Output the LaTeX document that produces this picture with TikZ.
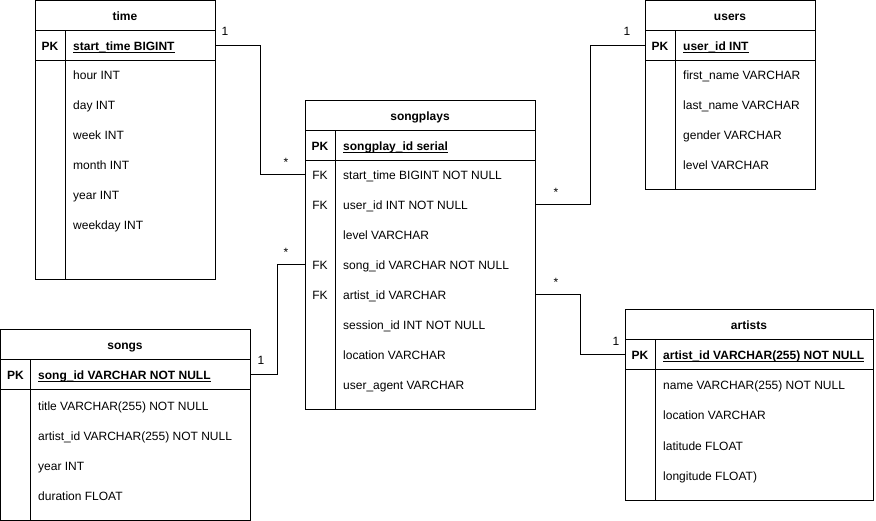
\documentclass[tikz,border=0pt]{standalone}
\usepackage{fontspec}
\setmainfont{Liberation Sans}
\newlength\kulw
\newcommand\kul[1]{\settowidth\kulw{#1}\rlap{\rule[-2.2pt]{\kulw}{0.8pt}}#1}
\tikzset{
  base/.style={inner sep=0pt, text height=10.4pt, text depth=0.4pt, font=\fontsize{12pt}{14pt}\selectfont},
  ttl/.style={base, font=\fontsize{12pt}{14pt}\selectfont\bfseries},
  keylbl/.style={base, font=\fontsize{12pt}{14pt}\selectfont\bfseries},
  fklbl/.style={base},
  fld/.style={base, anchor=west},
  keyfld/.style={base, anchor=west, font=\fontsize{12pt}{14pt}\selectfont\bfseries},
  card/.style={base},
  tbl/.style={draw=black, line width=1pt, anchor=north west, inner sep=0pt, outer sep=0pt},
  rowbox/.style={draw=none, anchor=north west, inner sep=0pt, outer sep=0pt, minimum height=30pt},
  sep/.style={draw=black, line width=1pt},
  link/.style={draw=black, line width=1pt},
}
\begin{document}
\begin{tikzpicture}[x=1pt,y=-1pt]
\useasboundingbox (0,0) rectangle (876,521);

% ---------------- time ----------------
\node[tbl, minimum width=180pt, minimum height=279pt] (time) at (35,1) {};
\node[rowbox, minimum width=180pt] (time-pk) at (35,31) {};
\draw[sep] (time-pk.north west) -- (time-pk.north east);
\draw[sep] (time-pk.south west) -- (time-pk.south east);
\coordinate (time-d) at (65,31);
\draw[sep] (time-d) -- (time-d |- time.south);
\node[ttl] (time-t) at (125,16) {time};
\node[keylbl] (time-pkl) at (50,46) {PK};
\node[keyfld] (time-pkf) at (73,46) {\kul{start\_time BIGINT}};
\foreach \t [count=\i from 0] in {hour INT, day INT, week INT, month INT, year INT, weekday INT}
  \node[fld] (time-r\i) at (73,75+30*\i) {\t};

% ---------------- users ----------------
\node[tbl, minimum width=170pt, minimum height=189pt] (users) at (645,1) {};
\node[rowbox, minimum width=170pt] (users-pk) at (645,31) {};
\draw[sep] (users-pk.north west) -- (users-pk.north east);
\draw[sep] (users-pk.south west) -- (users-pk.south east);
\coordinate (users-d) at (675,31);
\draw[sep] (users-d) -- (users-d |- users.south);
\node[ttl] (users-t) at (730,16) {users};
\node[keylbl] (users-pkl) at (660,46) {PK};
\node[keyfld] (users-pkf) at (683,46) {\kul{user\_id INT}};
\foreach \t [count=\i from 0] in {first\_name VARCHAR, last\_name VARCHAR, gender VARCHAR, level VARCHAR}
  \node[fld] (users-r\i) at (683,75+30*\i) {\t};

% ---------------- songplays ----------------
\node[tbl, minimum width=230pt, minimum height=309pt] (sp) at (305,101) {};
\node[rowbox, minimum width=230pt] (sp-pk) at (305,131) {};
\draw[sep] (sp-pk.north west) -- (sp-pk.north east);
\draw[sep] (sp-pk.south west) -- (sp-pk.south east);
\coordinate (sp-d) at (335,131);
\draw[sep] (sp-d) -- (sp-d |- sp.south);
\node[ttl] (sp-t) at (420,116) {songplays};
\node[keylbl] (sp-pkl) at (320,146) {PK};
\node[keyfld] (sp-pkf) at (343,146) {\kul{songplay\_id serial}};
\foreach \t [count=\i from 0] in {start\_time BIGINT NOT NULL, user\_id INT NOT NULL, level VARCHAR, song\_id VARCHAR NOT NULL, artist\_id VARCHAR, session\_id INT NOT NULL, location VARCHAR, user\_agent VARCHAR}
  \node[fld] (sp-r\i) at (343,175+30*\i) {\t};
\foreach \i in {0,1,3,4}
  \node[fklbl] (sp-fk\i) at (320,175+30*\i) {FK};
\node[rowbox, minimum width=230pt] (sp-start) at (305,160) {};
\node[rowbox, minimum width=230pt] (sp-user) at (305,190) {};
\node[rowbox, minimum width=230pt] (sp-song) at (305,250) {};
\node[rowbox, minimum width=230pt] (sp-artist) at (305,280) {};

% ---------------- songs ----------------
\node[tbl, minimum width=249.5pt, minimum height=190pt] (songs) at (0.5,330) {};
\node[rowbox, minimum width=249.5pt] (songs-pk) at (0.5,360) {};
\draw[sep] (songs-pk.north west) -- (songs-pk.north east);
\draw[sep] (songs-pk.south west) -- (songs-pk.south east);
\coordinate (songs-d) at (30.5,360);
\draw[sep] (songs-d) -- (songs-d |- songs.south);
\node[ttl] (songs-t) at (125,345) {songs};
\node[keylbl] (songs-pkl) at (15.5,375) {PK};
\node[keyfld] (songs-pkf) at (38,375) {\kul{song\_id VARCHAR NOT NULL}};
\foreach \t [count=\i from 0] in {title VARCHAR(255) NOT NULL, artist\_id VARCHAR(255) NOT NULL, year INT, duration FLOAT}
  \node[fld] (songs-r\i) at (38,405+30*\i) {\t};

% ---------------- artists ----------------
\node[tbl, minimum width=248pt, minimum height=190pt] (artists) at (625,310) {};
\node[rowbox, minimum width=248pt] (artists-pk) at (625,340) {};
\draw[sep] (artists-pk.north west) -- (artists-pk.north east);
\draw[sep] (artists-pk.south west) -- (artists-pk.south east);
\coordinate (artists-d) at (655,340);
\draw[sep] (artists-d) -- (artists-d |- artists.south);
\node[ttl] (artists-t) at (749,325) {artists};
\node[keylbl] (artists-pkl) at (640,355) {PK};
\node[keyfld] (artists-pkf) at (663,355) {\kul{artist\_id VARCHAR(255) NOT NULL}};
\foreach \t [count=\i from 0] in {name VARCHAR(255) NOT NULL, location VARCHAR, latitude FLOAT, longitude FLOAT)}
  \node[fld] (artists-r\i) at (663,385+30*\i) {\t};

% ---------------- connectors ----------------
\draw[link] (time-pk.east) -- ++(45,0) |- (sp-start.west);
\draw[link] (sp-user.east) -- ++(55,0) |- (users-pk.west);
\draw[link] (sp-song.west) -- ++(-27.5,0) |- (songs-pk.east);
\draw[link] (sp-artist.east) -- ++(45,0) |- (artists-pk.west);

% ---------------- cardinalities ----------------
\node[card] (c1a) at (225,31) {1};
\node[card] (c1b) at (286,162) {*};
\node[card] (c2a) at (556,192) {*};
\node[card] (c2b) at (627,31) {1};
\node[card] (c3a) at (286,252) {*};
\node[card] (c3b) at (261,360) {1};
\node[card] (c4a) at (556,282) {*};
\node[card] (c4b) at (616,341) {1};
\end{tikzpicture}
\end{document}
